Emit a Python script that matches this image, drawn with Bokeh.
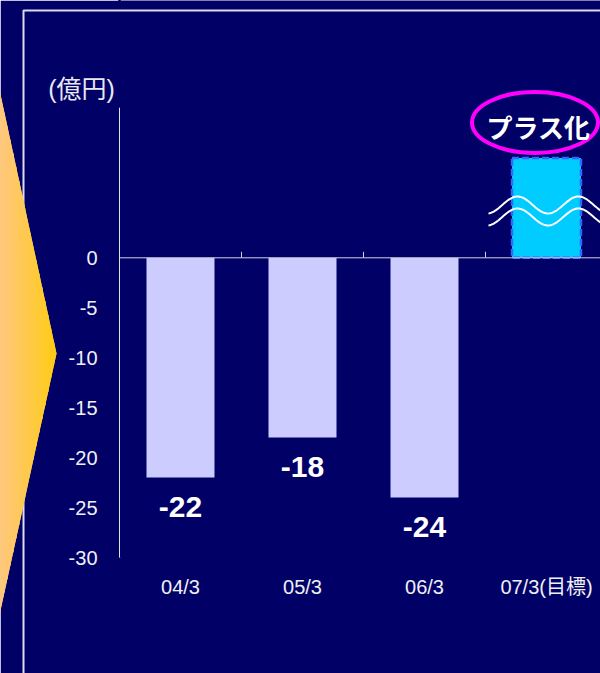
import numpy as np
from bokeh.plotting import figure
from bokeh.models import Range1d, FixedTicker, Span
from bokeh.core.properties import value
from bokeh.embed import file_html
from bokeh.resources import INLINE

# ---- data ----
categories = ["04/3", "05/3", "06/3", "07/3(目標)"]
actual_values = [-22, -18, -24]
actual_labels = ["-22", "-18", "-24"]
target_height = [10]          # schematic (broken) target bar
target_text = ["プラス化"]
unit_label = ["(億円)"]
y_ticks = [0, -5, -10, -15, -20, -25, -30]
y_tick_labels = ["0", "-5", "-10", "-15", "-20", "-25", "-30"]

# ---- style / layout ----
NAVY = "#000066"
W, H = 600, 673
LEFT, BOTTOM = 119, 116
CAT_PX = 122.0
X_END = (W - LEFT) / CAT_PX
FRAME_H = H - BOTTOM
Y0 = -30
Y1 = 257.3 * 30 / (FRAME_H - 257.3)

def dx(xi):
    """pixel x -> data x"""
    return (xi - LEFT) / CAT_PX

def dy(yi):
    """pixel y -> data y"""
    return Y1 - yi * (Y1 - Y0) / FRAME_H

p = figure(width=W, height=H, output_backend="svg", toolbar_location=None,
           x_range=Range1d(0, X_END), y_range=Range1d(Y0, Y1),
           min_border_left=LEFT, min_border_right=0, min_border_top=0,
           min_border_bottom=BOTTOM,
           background_fill_color=NAVY, border_fill_color=NAVY,
           outline_line_color=None)
p.xgrid.visible = False
p.ygrid.visible = False

# hide the anti-aliasing seam at the plot frame edges
p.line(x=[dx(119), dx(119), np.nan, dx(120), dx(605)],
       y=[dy(-2), dy(107), np.nan, dy(557.3), dy(557.3)],
       line_color=NAVY, line_width=2.5, level="overlay")

# slide frame (overlay level so it is not clipped to the plot frame)
p.line(x=[dx(23), dx(23), dx(700)], y=[dy(700), dy(10), dy(10)],
       line_color="#DCDCEE", line_width=2, level="overlay")

# yellow arrow with left-to-right gradient
tip_x, tip_y = 56.0, 353.0
def top_edge(x):
    return tip_y - (tip_x - x) * 259.0 / 56.0
def bot_edge(x):
    return tip_y + (tip_x - x) * 257.0 / 56.0
edges = np.linspace(-2, tip_x, 21)
c0 = np.array([255, 200, 128]); c1 = np.array([255, 204, 20])
for a, b in zip(edges[:-1], edges[1:]):
    t = min(max((0.5 * (a + b)) / tip_x, 0), 1)
    c = (c0 + (c1 - c0) * t).astype(int)
    col = "#%02x%02x%02x" % tuple(c)
    bb = b + 0.5 if b < tip_x else b
    ys_px = [top_edge(a), top_edge(bb), bot_edge(bb), bot_edge(a)]
    p.harea(x1=[dx(a)] * 4, x2=[dx(a), dx(bb), dx(bb), dx(a)],
            y=[dy(v) for v in ys_px], fill_color=col, level="overlay")
    p.patch(x=[dx(a), dx(bb), dx(bb), dx(a)], y=[dy(v) for v in ys_px],
            fill_color=col, line_color=None, level="overlay")

p.text(x=[dx(81)], y=[dy(88)], text=unit_label, text_align="center",
       text_baseline="middle", text_font=value("Liberation Sans, Noto Sans CJK JP"),
       text_font_size="25px", text_color="#E8E8F0", level="overlay")

# axes
xs = [i + 0.5 for i in range(len(categories))]
p.yaxis.ticker = FixedTicker(ticks=y_ticks)
p.yaxis.major_label_overrides = {v: s for v, s in zip(y_ticks, y_tick_labels)}
p.yaxis.bounds = (-30, 15)
p.yaxis.axis_line_color = "#E0E0E8"
p.yaxis.axis_line_width = 1
p.yaxis.major_tick_out = 0
p.yaxis.major_tick_in = 0
p.yaxis.minor_tick_out = 0
p.yaxis.minor_tick_in = 0
p.yaxis.major_label_standoff = 22
p.yaxis.major_label_text_font = "Liberation Sans"
p.yaxis.major_label_text_font_size = "20px"
p.yaxis.major_label_text_color = "#F0F0F4"

p.xaxis.ticker = FixedTicker(ticks=xs)
p.xaxis.major_label_overrides = {x: c for x, c in zip(xs, categories)}
p.xaxis.axis_line_color = None
p.xaxis.major_tick_out = 0
p.xaxis.major_tick_in = 0
p.xaxis.minor_tick_out = 0
p.xaxis.minor_tick_in = 0
p.xaxis.major_label_standoff = 18
p.xaxis.major_label_text_font = "Liberation Sans, Noto Sans CJK JP"
p.xaxis.major_label_text_font_size = "20px"
p.xaxis.major_label_text_color = "#F0F0F4"

# bars
n_act = len(actual_values)
p.vbar(x=xs[:n_act], top=0, bottom=actual_values, width=68 / CAT_PX,
       fill_color="#CCCCFF", line_color=None)
p.vbar(x=xs[n_act:], bottom=0, top=target_height, width=69 / CAT_PX,
       fill_color="#00CCFF", line_color="#3366FF", line_width=2.5,
       line_dash="7 3")

# zero line and category separators
p.add_layout(Span(location=0, dimension="width", line_color="#D0D0E0", line_width=1))
bounds_x = [i for i in range(1, len(categories))]
p.segment(x0=bounds_x, y0=[0] * len(bounds_x), x1=bounds_x,
          y1=[0.6] * len(bounds_x), line_color="#D0D0E0", line_width=1)

# value labels
p.text(x=xs[:n_act], y=actual_values, text=actual_labels, y_offset=29,
       text_align="center", text_baseline="middle",
       text_font=value("Liberation Sans"), text_font_style="bold",
       text_font_size="30px", text_color="white")

# break waves on the target bar
wx = np.linspace(488, 600, 120)
wy = 204.5 - 8.5 * np.cos(2 * np.pi * (wx - 517) / 61.0)
p.multi_line(xs=[[dx(v) for v in wx]] * 2,
             ys=[[dy(v) for v in wy], [dy(v + 12) for v in wy]],
             line_color="white", line_width=2)

# ellipse with text
p.ellipse(x=[dx(534.5)], y=[dy(122)], width=[126], height=[61],
          width_units="screen", height_units="screen",
          fill_color=None, line_color="#FF00FF", line_width=4)
p.text(x=[dx(538)], y=[dy(126)], text=target_text, text_align="center",
       text_baseline="middle", text_font=value("Noto Sans CJK JP"),
       text_font_style="bold", text_font_size="26px", text_color="white")

open("out.html", "w").write(file_html(p, INLINE))
